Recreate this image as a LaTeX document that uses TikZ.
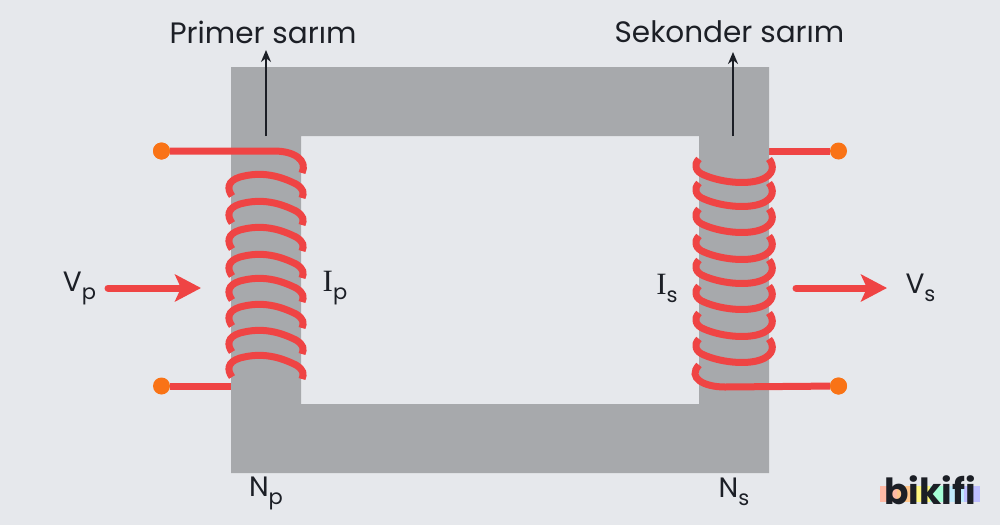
\documentclass[tikz,border=0pt]{standalone}
\usepackage{fontspec}
\setmainfont{Poppins}
\newfontfamily\serifI{Liberation Serif}
\usepackage{xcolor}
\usetikzlibrary{arrows.meta,positioning}
\definecolor{bgpage}{HTML}{E6E8EC}
\definecolor{coregray}{HTML}{A7A9AC}
\definecolor{wirered}{HTML}{EF4444}
\definecolor{dotorange}{HTML}{F97316}
\definecolor{inkdark}{HTML}{1C1F26}
\newcommand{\lowered}[1]{\raisebox{-8pt}{\fontsize{21}{21}\selectfont #1}}
\begin{document}
\begin{tikzpicture}[
  x=1pt, y=-1pt,
  wire/.style={draw=wirered, line width=7pt},
  terminal/.style={circle, fill=dotorange, inner sep=0pt, minimum size=17pt},
  lbl/.style={text=inkdark, inner sep=0pt, font=\fontsize{29.5}{30}\selectfont},
  qty/.style={text=inkdark, inner sep=0pt, font=\fontsize{28}{28}\selectfont},
  pointer/.style={draw=inkdark, line width=2.8pt, -{Stealth[length=12pt,width=10pt]}},
  flow/.style={draw=wirered, line width=7pt, line cap=round, -{Stealth[length=26pt,width=27pt,inset=6pt]}},
  band/.style={minimum width=16.7pt, minimum height=16pt, inner sep=0pt, anchor=west, outer sep=0pt},
]
\useasboundingbox[fill=bgpage] (0,0) rectangle (1000,525);
% uclar
\node[terminal] (ptop) at (161.5,151) {};
\node[terminal] (pbot) at (161.5,386) {};
\node[terminal] (stop) at (838.5,151) {};
\node[terminal] (sbot) at (838.5,386) {};
% cekirdegin arkasinda kalan teller
\draw[wire] (pbot) -- (240,386);
\draw[wire] (stop) -- (760,151);
% cekirdek
\fill[coregray, even odd rule] (231,67) rectangle (769,473) (301,136) rectangle (699,404);
% primer sargi
\draw[wire] (ptop) -- (274,151) .. controls (294,151) and (308,160) .. (302,173);
\foreach \y in {173,200,226,253,277,303,329,354} {
  \draw[wire, yshift=-\y pt] (232,23) .. controls (227,16) and (227,8) .. (240,4)
    .. controls (262,-2) and (280,3) .. (296,11) .. controls (304,16) and (304,20) .. (302,25);
}
% sekonder sargi
\foreach \y in {183,207,233,260,284,310,337,363} {
  \draw[wire, yshift=-\y pt] (699,-24) .. controls (693,-18) and (696,-11) .. (704,-8)
    .. controls (720,-1) and (745,2) .. (760,-3) .. controls (775,-8) and (774,-18) .. (769,-24);
}
\draw[wire] (sbot) -- (725,387) .. controls (704,387) and (687,378) .. (699,365);
\node[terminal] at (ptop) {};
\node[terminal] at (sbot) {};
% etiketler
\node[lbl] (primer) at (263,32) {Primer sarım};
\node[lbl] (sekonder) at (729.5,32) {Sekonder sarım};
\coordinate (ptail) at (266,136);
\coordinate (ptip) at (266,50);
\coordinate (stail) at (733,136);
\coordinate (stip) at (733,52);
\draw[pointer] (ptail) -- (ptip);
\draw[pointer] (stail) -- (stip);
% gerilim oklari
\node[qty] (vp) at (79.5,288) {V\lowered{p}};
\node[qty] (vs) at (920.5,288) {V\lowered{s}};
\coordinate (vpin) at (108,288);
\coordinate (vpend) at (201,288);
\coordinate (vsin) at (796,288);
\coordinate (vsend) at (887,288);
\draw[flow] (vpin) -- (vpend);
\draw[flow] (vsin) -- (vsend);
\node[qty] (ip) at (335,288) {{\serifI\fontsize{31}{31}\selectfont I}\lowered{p}};
\node[qty] (is) at (667,288) {{\serifI\fontsize{31}{31}\selectfont I}\lowered{s}};
\node[qty] (np) at (266,493) {N\lowered{p}};
\node[qty] (ns) at (734,492) {N\lowered{s}};
% logo
\node[band, fill=orange!45!red!35] (b1) at (880,494) {};
\node[band, fill=orange!45, right=0pt of b1] (b2) {};
\node[band, fill=yellow!50, right=0pt of b2] (b3) {};
\node[band, fill=green!45!cyan!35, right=0pt of b3] (b4) {};
\node[band, fill=cyan!25, right=0pt of b4] (b5) {};
\node[band, fill=blue!25, right=0pt of b5] (b6) {};
\node[text=inkdark, inner sep=0pt, font=\fontsize{36}{36}\selectfont\bfseries] (logo) at (930,490) {bikifi};
\end{tikzpicture}
\end{document}
